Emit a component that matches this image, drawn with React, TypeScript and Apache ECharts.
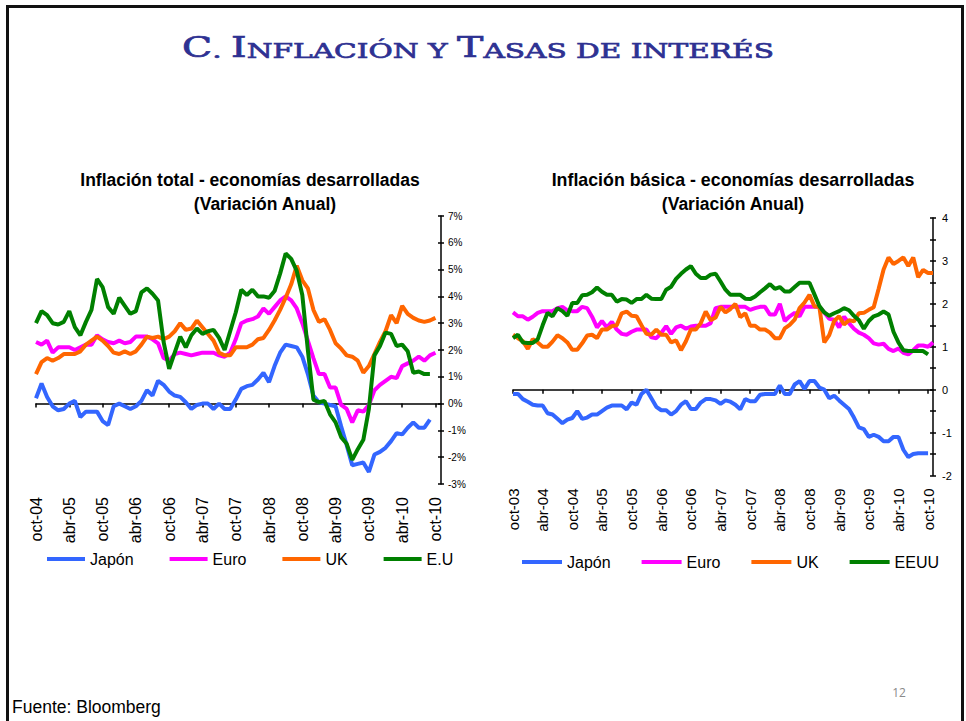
import React, { useEffect, useRef } from 'react';
import * as echarts from 'echarts';

const MONTHS_ES = ['ene', 'feb', 'mar', 'abr', 'may', 'jun', 'jul', 'ago', 'sep', 'oct', 'nov', 'dic'];
function monthLabels(startYear: number, startMonth: number, count: number): string[] {
  const out: string[] = [];
  for (let k = 0; k < count; k++) {
    const m = (startMonth + k) % 12;
    const y = startYear + Math.floor((startMonth + k) / 12);
    out.push(`${MONTHS_ES[m]}-${String(y % 100).padStart(2, '0')}`);
  }
  return out;
}

// Left chart: oct-04 .. nov-10
const leftCategories = monthLabels(2004, 9, 74);
// Right chart: oct-03 .. nov-10
const rightCategories = monthLabels(2003, 9, 86);

// Inflación total (% anual), from oct-04
const leftJapon = [
  0.2, 0.75, 0.25, -0.1, -0.25, -0.2, 0.0, 0.1, -0.5, -0.3,
  -0.3, -0.3, -0.65, -0.8, -0.1, 0.0, -0.1, -0.2, -0.1, 0.1,
  0.5, 0.3, 0.85, 0.7, 0.45, 0.3, 0.25, 0.05, -0.2, -0.05,
  0.0, 0.0, -0.2, 0.0, -0.2, -0.2, 0.15, 0.55, 0.65, 0.7,
  0.9, 1.15, 0.8, 1.4, 1.9, 2.2, 2.15, 2.1, 1.75, 1.1,
  0.3, 0.05, 0.0, -0.05, -0.1, -0.85, -1.55, -2.3, -2.25, -2.2,
  -2.55, -1.9, -1.8, -1.65, -1.4, -1.1, -1.15, -0.9, -0.7, -0.9,
  -0.9, -0.6,
];
const leftEuro = [
  2.3, 2.2, 2.35, 1.9, 2.1, 2.1, 2.1, 2.0, 2.1, 2.2,
  2.2, 2.55, 2.4, 2.3, 2.25, 2.35, 2.25, 2.3, 2.5, 2.5,
  2.5, 2.4, 2.25, 1.7, 1.6, 1.85, 1.9, 1.85, 1.8, 1.85,
  1.9, 1.9, 1.9, 1.8, 1.75, 1.9, 2.4, 3.0, 3.1, 3.15,
  3.25, 3.55, 3.35, 3.6, 3.85, 4.0, 3.85, 3.55, 3.0, 2.35,
  1.7, 1.1, 1.1, 0.6, 0.6, -0.05, -0.2, -0.7, -0.25, -0.3,
  -0.05, 0.5, 0.7, 0.85, 1.0, 0.95, 1.4, 1.5, 1.6, 1.75,
  1.6, 1.8, 1.9,
];
const leftUK = [
  1.1, 1.55, 1.7, 1.6, 1.7, 1.85, 1.85, 1.85, 1.95, 2.2,
  2.35, 2.5, 2.35, 2.15, 1.9, 1.85, 1.95, 1.85, 1.95, 2.2,
  2.5, 2.45, 2.5, 2.4, 2.5, 2.7, 3.0, 2.75, 2.8, 3.1,
  2.85, 2.6, 2.35, 1.9, 1.8, 1.8, 2.1, 2.1, 2.1, 2.2,
  2.4, 2.45, 2.75, 3.1, 3.5, 3.95, 4.45, 5.15, 4.6, 4.3,
  3.5, 3.05, 3.15, 2.75, 2.25, 2.05, 1.8, 1.75, 1.6, 1.15,
  1.4, 1.85, 2.3, 2.7, 3.3, 3.0, 3.65, 3.35, 3.2, 3.1,
  3.05, 3.1, 3.2,
];
const leftEU = [
  3.0, 3.45, 3.3, 3.0, 2.95, 3.05, 3.45, 2.85, 2.55, 3.05,
  3.5, 4.65, 4.35, 3.6, 3.35, 3.95, 3.65, 3.35, 3.45, 4.15,
  4.3, 4.1, 3.85, 2.3, 1.3, 1.9, 2.5, 2.1, 2.55, 2.8,
  2.6, 2.7, 2.75, 2.45, 2.0, 2.7, 3.4, 4.25, 4.05, 4.25,
  4.0, 4.0, 3.95, 4.2, 4.85, 5.6, 5.4, 4.95, 4.05, 2.0,
  0.15, 0.05, 0.1, -0.4, -0.7, -1.25, -1.5, -2.1, -1.7, -1.35,
  -0.2, 1.8, 2.15, 2.65, 2.6, 2.15, 2.2, 1.95, 1.15, 1.2,
  1.1, 1.1,
];

// Inflación básica (% anual), from oct-03
const rightJapon = [
  -0.1, -0.1, -0.22, -0.28, -0.35, -0.37, -0.37, -0.55, -0.58, -0.68,
  -0.78, -0.7, -0.66, -0.5, -0.68, -0.65, -0.58, -0.58, -0.5, -0.42,
  -0.37, -0.37, -0.37, -0.46, -0.3, -0.35, -0.1, 0.0, -0.2, -0.4,
  -0.48, -0.48, -0.58, -0.5, -0.35, -0.27, -0.45, -0.45, -0.3, -0.22,
  -0.22, -0.25, -0.33, -0.25, -0.28, -0.35, -0.46, -0.22, -0.27, -0.27,
  -0.12, -0.1, -0.1, -0.1, 0.1, -0.1, -0.1, 0.12, 0.2, 0.02,
  0.2, 0.2, 0.05, 0.0, -0.2, -0.14, -0.25, -0.35, -0.45, -0.65,
  -0.88, -0.92, -1.1, -1.05, -1.1, -1.2, -1.2, -1.1, -1.1, -1.4,
  -1.57, -1.5, -1.48, -1.48, -1.48,
];
const rightEuro = [
  1.8, 1.71, 1.71, 1.63, 1.7, 1.79, 1.83, 1.83, 1.83, 1.9,
  1.93, 1.85, 1.83, 1.83, 1.93, 1.9, 1.7, 1.45, 1.6, 1.45,
  1.58, 1.4, 1.3, 1.28, 1.35, 1.4, 1.4, 1.4, 1.22, 1.2,
  1.32, 1.48, 1.3, 1.45, 1.49, 1.42, 1.47, 1.49, 1.49, 1.49,
  1.55, 1.9, 1.93, 1.93, 1.93, 1.93, 1.93, 1.93, 1.86, 1.9,
  1.93, 1.93, 1.75, 1.75, 2.0, 1.6, 1.71, 1.79, 1.71, 1.93,
  1.93, 1.93, 1.93, 1.8, 1.65, 1.63, 1.45, 1.7, 1.55, 1.42,
  1.33, 1.28, 1.2, 1.08, 1.05, 1.07, 0.95, 0.9, 0.96, 0.86,
  0.82, 0.92, 1.03, 1.03, 1.0, 1.1,
];
const rightUK = [
  1.28, 1.2, 1.13, 0.95, 1.18, 1.1, 1.0, 1.0, 1.12, 1.27,
  1.2, 1.1, 0.93, 0.93, 1.08, 1.26, 1.28, 1.2, 1.4, 1.4,
  1.48, 1.5, 1.78, 1.82, 1.72, 1.71, 1.5, 1.3, 1.28, 1.4,
  1.28, 1.28, 1.1, 1.15, 0.92, 1.13, 1.4, 1.4, 1.55, 1.82,
  1.62, 1.68, 1.93, 1.8, 1.88, 2.0, 1.69, 1.78, 1.49, 1.49,
  1.4, 1.4, 1.33, 1.2, 1.2, 1.43, 1.51, 1.63, 1.9, 2.03,
  2.21, 1.94, 1.93, 1.1, 1.27, 1.6, 1.71, 1.52, 1.62, 1.59,
  1.78, 1.79, 1.86, 1.92, 2.35, 2.8, 3.08, 2.93, 3.0, 3.08,
  2.88, 3.08, 2.62, 2.79, 2.72, 2.72,
];
const rightEEUU = [
  1.2, 1.28, 1.1, 1.09, 1.09, 1.17, 1.5, 1.79, 1.71, 1.9,
  1.83, 1.72, 2.02, 2.02, 2.2, 2.21, 2.27, 2.38, 2.28, 2.21,
  2.21, 2.05, 2.11, 2.1, 2.02, 2.11, 2.11, 2.21, 2.12, 2.11,
  2.11, 2.33, 2.4, 2.58, 2.7, 2.8, 2.88, 2.7, 2.6, 2.6,
  2.68, 2.7, 2.52, 2.33, 2.21, 2.21, 2.21, 2.12, 2.11, 2.17,
  2.27, 2.36, 2.46, 2.35, 2.39, 2.29, 2.29, 2.39, 2.49, 2.49,
  2.49, 2.22, 1.95, 1.8, 1.72, 1.78, 1.83, 1.9, 1.85, 1.72,
  1.62, 1.42, 1.6, 1.71, 1.75, 1.82, 1.75, 1.35, 1.1, 0.92,
  0.9, 0.9, 0.9, 0.9, 0.82,
];

const leftTicks = { min: -3, max: 7, interval: 1 };
const rightTicks = { min: -2, max: 4, interval: 0.5 };

const COLORS = { japon: '#3366FF', euro: '#FF00FF', uk: '#FF6600', eu: '#008000' };
const FONT = 'Arial, "Liberation Sans", sans-serif';
const TITLE_COLOR = '#2E3192';

function lineSeries(name: string, data: number[], color: string, axisIdx: number) {
  return {
    type: 'line',
    name,
    data,
    xAxisIndex: axisIdx,
    yAxisIndex: axisIdx,
    symbol: 'none',
    showSymbol: false,
    lineStyle: { color, width: 4 },
    itemStyle: { color },
    emphasis: { disabled: true },
    z: 3,
  };
}

function buildOption() {
  const axisLineStyle = { color: '#000', width: 1.5 };
  const labelAxis = (grid: number, data: string[], fontSize: number) => ({
    type: 'category',
    gridIndex: grid,
    data,
    boundaryGap: false,
    position: 'bottom',
    axisLine: { show: false, onZero: false },
    axisTick: { show: false },
    splitLine: { show: false },
    axisLabel: {
      interval: (idx: number) => idx % 6 === 0,
      rotate: 90,
      margin: 13,
      fontSize,
      color: '#000',
      fontFamily: FONT,
    },
  });
  const zeroAxis = (grid: number, data: string[]) => ({
    type: 'category',
    gridIndex: grid,
    data,
    boundaryGap: false,
    position: 'top',
    axisLine: { show: true, onZero: true, lineStyle: axisLineStyle },
    axisTick: { show: true, inside: true, interval: (idx: number) => idx % 6 === 0, length: 4, lineStyle: axisLineStyle },
    axisLabel: { show: false },
    splitLine: { show: false },
  });
  const valueAxis = (grid: number, t: any, fmt: (v: number) => string, fontSize: number, margin: number) => ({
    type: 'value',
    gridIndex: grid,
    position: 'right',
    min: t.min,
    max: t.max,
    interval: t.interval,
    axisLine: { show: true, lineStyle: axisLineStyle },
    axisTick: { show: true, length: 3, lineStyle: axisLineStyle },
    axisLabel: { formatter: fmt, fontSize, color: '#000', fontFamily: FONT, margin },
    splitLine: { show: false },
  });
  const innerTickAxis = (grid: number, t: any, width: number) => ({
    type: 'value',
    gridIndex: grid,
    position: 'left',
    offset: -width,
    min: t.min,
    max: t.max,
    interval: t.interval,
    axisLine: { show: false },
    axisTick: { show: true, length: 3, lineStyle: axisLineStyle },
    axisLabel: { show: false },
    splitLine: { show: false },
  });

  return {
    animation: false,
    backgroundColor: '#fff',
    grid: [
      { left: 36, top: 216, width: 405, height: 268 },
      { left: 513, top: 218, width: 420, height: 257.5 },
    ],
    xAxis: [
      labelAxis(0, leftCategories, 16),
      labelAxis(1, rightCategories, 15),
      zeroAxis(0, leftCategories),
      zeroAxis(1, rightCategories),
    ],
    yAxis: [
      valueAxis(0, leftTicks, (v: number) => `${v}%`, 10, 7),
      valueAxis(1, rightTicks, (v: number) => (Number.isInteger(v) ? String(v) : ''), 11, 9),
      innerTickAxis(0, leftTicks, 405),
      innerTickAxis(1, rightTicks, 420),
    ],
    legend: [
      {
        left: 42, top: 546, itemWidth: 38, itemHeight: 4, itemGap: 36, icon: 'rect', selectedMode: false,
        data: ['Japón', 'Euro', 'UK', 'E.U'],
        textStyle: { fontSize: 16, color: '#000', fontFamily: FONT },
      },
      {
        left: 517, top: 549, itemWidth: 40, itemHeight: 4, itemGap: 31, icon: 'rect', selectedMode: false,
        data: ['Japón', 'Euro', 'UK', 'EEUU'],
        textStyle: { fontSize: 16, color: '#000', fontFamily: FONT },
      },
    ],
    series: [
      lineSeries('Japón', leftJapon, COLORS.japon, 0),
      lineSeries('Euro', leftEuro, COLORS.euro, 0),
      lineSeries('UK', leftUK, COLORS.uk, 0),
      lineSeries('E.U', leftEU, COLORS.eu, 0),
      lineSeries('Japón', rightJapon, COLORS.japon, 1),
      lineSeries('Euro', rightEuro, COLORS.euro, 1),
      lineSeries('UK', rightUK, COLORS.uk, 1),
      lineSeries('EEUU', rightEEUU, COLORS.eu, 1),
    ],
    graphic: [
      {
        type: 'rect', silent: true,
        shape: { x: 7.5, y: 6.5, width: 955, height: 760 },
        style: { fill: 'none', stroke: '#111', lineWidth: 3 },
      },
      {
        type: 'text', x: 478, y: 47, silent: true, scaleX: 1.41,
        style: {
          text: '{b|C}{s|. }{b|I}{s|NFLACIÓN Y }{b|T}{s|ASAS DE INTERÉS}',
          align: 'center', verticalAlign: 'middle',
          rich: {
            b: { fontSize: 28, fontFamily: '"DejaVu Serif", serif', fill: TITLE_COLOR, stroke: TITLE_COLOR, lineWidth: 0.7, verticalAlign: 'bottom', lineHeight: 28 },
            s: { fontSize: 21, fontFamily: '"DejaVu Serif", serif', fill: TITLE_COLOR, stroke: TITLE_COLOR, lineWidth: 0.7, verticalAlign: 'bottom', lineHeight: 22 },
          },
        },
      },
      {
        type: 'text', x: 250, y: 180, silent: true,
        style: { text: 'Inflación total - economías desarrolladas', align: 'center', verticalAlign: 'middle', fontSize: 17.5, fontWeight: 'bold', fontFamily: FONT, fill: '#000' },
      },
      {
        type: 'text', x: 265, y: 204, silent: true,
        style: { text: '(Variación Anual)', align: 'center', verticalAlign: 'middle', fontSize: 17.5, fontWeight: 'bold', fontFamily: FONT, fill: '#000' },
      },
      {
        type: 'text', x: 733, y: 180, silent: true,
        style: { text: 'Inflación básica - economías desarrolladas', align: 'center', verticalAlign: 'middle', fontSize: 17.8, fontWeight: 'bold', fontFamily: FONT, fill: '#000' },
      },
      {
        type: 'text', x: 733, y: 204, silent: true,
        style: { text: '(Variación Anual)', align: 'center', verticalAlign: 'middle', fontSize: 17.5, fontWeight: 'bold', fontFamily: FONT, fill: '#000' },
      },
      {
        type: 'text', x: 12, y: 707, silent: true,
        style: { text: 'Fuente: Bloomberg', align: 'left', verticalAlign: 'middle', fontSize: 17.5, fontFamily: FONT, fill: '#000' },
      },
      {
        type: 'text', x: 899, y: 692, silent: true,
        style: { text: '12', align: 'center', verticalAlign: 'middle', fontSize: 12, fontFamily: '"Open Sans", sans-serif', fill: '#8a8a8a' },
      },
    ],
  };
}

export default function App() {
  const ref = useRef<HTMLDivElement>(null);
  useEffect(() => {
    if (!ref.current) return;
    const chart = echarts.init(ref.current, null, { renderer: 'svg' });
    chart.setOption(buildOption() as any);
    return () => chart.dispose();
  }, []);
  return (
    <div
      ref={ref}
      style={{ position: 'fixed', left: 0, top: 0, width: 966, height: 721, background: '#fff' }}
    />
  );
}
